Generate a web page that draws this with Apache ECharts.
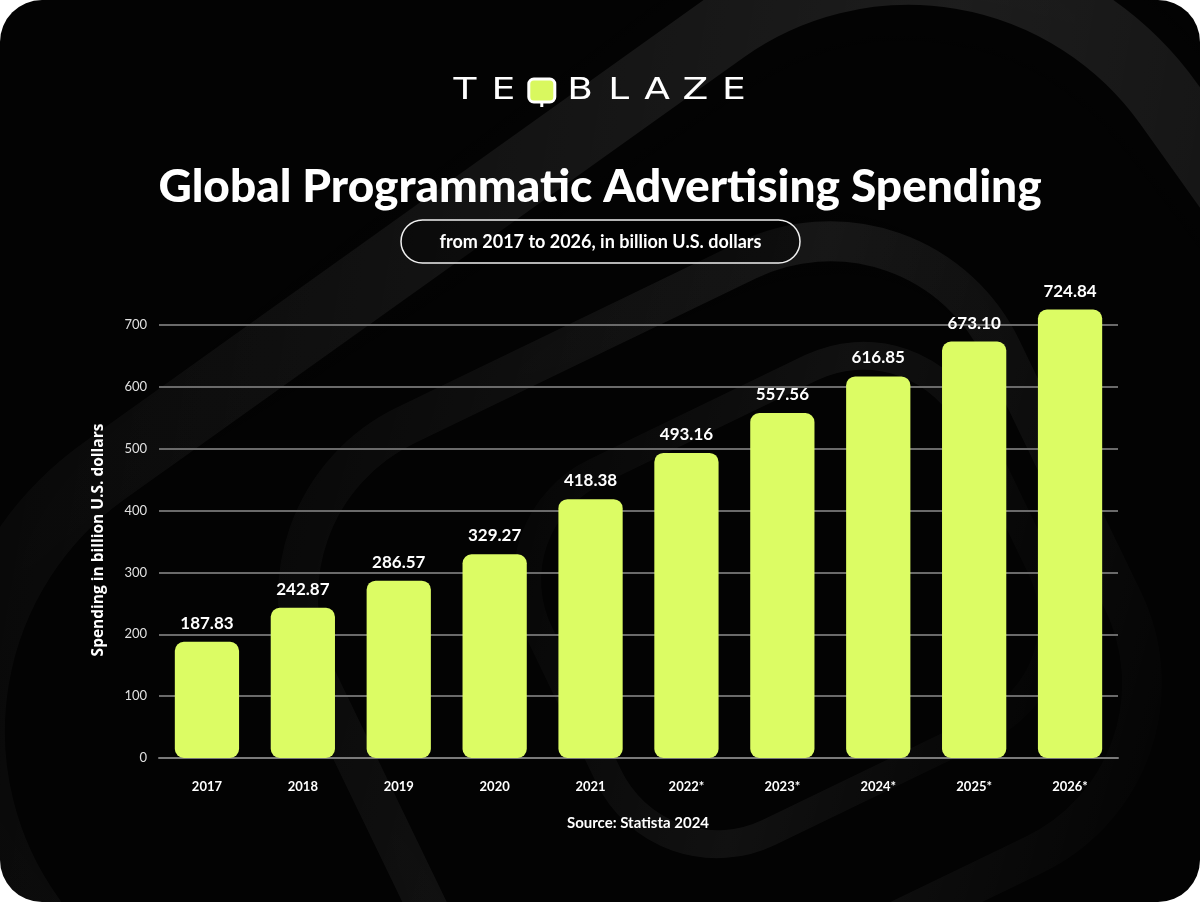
<!DOCTYPE html>
<html>
<head>
<meta charset="utf-8">
<script src="https://cdn.jsdelivr.net/npm/echarts@6/dist/echarts.min.js"></script>
<style>
html,body{margin:0;padding:0;background:#ffffff;}
#wrap{position:absolute;left:0;top:0;width:1200px;height:902px;border-radius:42px;overflow:hidden;background:#030303;}
#chart{width:1200px;height:902px;}
</style>
</head>
<body>
<div id="wrap"><div id="chart"></div></div>
<script>
const categories = ['2017','2018','2019','2020','2021','2022*','2023*','2024*','2025*','2026*'];
const spending = [187.83, 242.87, 286.57, 329.27, 418.38, 493.16, 557.56, 616.85, 673.10, 724.84];
const yTicks = [0, 100, 200, 300, 400, 500, 600, 700];

const FONT = 'Lato, "Open Sans", sans-serif';
const chart = echarts.init(document.getElementById('chart'), null, {renderer: 'canvas'});

function band(a, b) {
  return new echarts.graphic.LinearGradient(0, 0, 1, 1, [
    {offset: 0, color: 'rgba(255,255,255,' + a + ')'},
    {offset: 0.5, color: 'rgba(255,255,255,' + b + ')'},
    {offset: 1, color: 'rgba(255,255,255,0.0)'}
  ]);
}

// logo letters (individual texts for letter spacing)
const logoLetters = ['T','E','Q','B','L','A','Z','E'];
const logoGraphics = [];
logoLetters.forEach((ch, i) => {
  const cx = 465 + i * 38.4;
  if (ch === 'Q') {
    logoGraphics.push({type: 'rect', z: 10, shape: {x: cx - 13, y: 79, width: 26, height: 23, r: 5},
      style: {fill: '#d9f85f', stroke: '#ffffff', lineWidth: 3}});
    logoGraphics.push({type: 'line', z: 10, shape: {x1: cx, y1: 102, x2: cx, y2: 107},
      style: {stroke: '#ffffff', lineWidth: 3}});
    logoGraphics.push({type: 'text', z: 11, x: cx, y: 90,
      style: {text: 'Q', fill: 'rgba(0,0,0,0)', font: '30px "DejaVu Sans"', textAlign: 'center', textVerticalAlign: 'middle'}});
  } else {
    logoGraphics.push({type: 'text', z: 10, x: cx, y: 91, scaleX: 1.25,
      style: {text: ch, fill: '#ffffff', font: '400 30px "DejaVu Sans", sans-serif', textAlign: 'center', textVerticalAlign: 'middle'}});
  }
});

chart.setOption({
  backgroundColor: 'transparent',
  graphic: [
    // decorative background shapes (soft glowing outlines)
    {type: 'rect', z: -10, silent: true, x: 820, y: 820, rotation: 0.62,
     shape: {x: -700, y: -700, width: 1400, height: 1400, r: 320},
     style: {fill: 'none', stroke: band(0.01, 0.10), lineWidth: 70, shadowBlur: 80, shadowColor: 'rgba(255,255,255,0.10)'}},
    {type: 'rect', z: -10, silent: true, x: 720, y: 640, rotation: 0.45,
     shape: {x: -380, y: -330, width: 760, height: 660, r: 190},
     style: {fill: 'none', stroke: band(0.02, 0.08), lineWidth: 40, shadowBlur: 60, shadowColor: 'rgba(255,255,255,0.08)'}},
    {type: 'rect', z: -10, silent: true, x: 790, y: 600, rotation: 0.45,
     shape: {x: -240, y: -200, width: 480, height: 400, r: 120},
     style: {fill: 'none', stroke: band(0.01, 0.06), lineWidth: 28, shadowBlur: 40, shadowColor: 'rgba(255,255,255,0.06)'}},
    ...logoGraphics,
    // title
    {type: 'text', z: 10, x: 600, y: 187,
     style: {text: 'Global Programmatic Advertising Spending', fill: '#ffffff',
       font: '900 46px "Lato", sans-serif', textAlign: 'center', textVerticalAlign: 'middle'}},
    // subtitle pill
    {type: 'rect', z: 9, shape: {x: 401, y: 220, width: 399, height: 43, r: 21.5},
     style: {fill: 'rgba(0,0,0,0.35)', stroke: '#f0f0f0', lineWidth: 1.5}},
    {type: 'text', z: 10, x: 600.5, y: 242,
     style: {text: 'from 2017 to 2026, in billion U.S. dollars', fill: '#ffffff',
       font: '700 18px "Lato", sans-serif', textAlign: 'center', textVerticalAlign: 'middle'}},
    // y axis title
    {type: 'text', z: 10, x: 99, y: 540, rotation: Math.PI / 2,
     style: {text: 'Spending in billion U.S. dollars', fill: '#ffffff',
       font: '700 15.5px "Open Sans", sans-serif', textAlign: 'center', textVerticalAlign: 'middle'}},
    // source
    {type: 'text', z: 10, x: 638, y: 823,
     style: {text: 'Source: Statista 2024', fill: '#ffffff',
       font: '700 15px "Lato", sans-serif', textAlign: 'center', textVerticalAlign: 'middle'}}
  ],
  grid: {left: 159, right: 82, top: 294, bottom: 144},
  xAxis: {
    type: 'category',
    data: categories,
    axisLine: {show: true, lineStyle: {color: '#7a7a7a', width: 2}},
    axisTick: {show: false},
    axisLabel: {color: '#ffffff', fontFamily: FONT, fontWeight: 'bold', fontSize: 13, margin: 22}
  },
  yAxis: {
    type: 'value',
    min: 0, max: 750, interval: 100,
    axisLine: {show: false},
    axisTick: {show: false},
    axisLabel: {color: '#e0e0e0', fontFamily: FONT, fontSize: 13, margin: 12,
      formatter: v => yTicks.includes(v) ? String(v) : ''},
    splitLine: {show: false}
  },
  series: [
    {
      type: 'line', data: [], z: 1, silent: true,
      markLine: {
        z: 1, silent: true, symbol: 'none', label: {show: false},
        lineStyle: {color: '#6a6a6a', width: 2, type: 'solid'},
        emphasis: {disabled: true},
        data: yTicks.filter(v => v > 0).map(v => ({yAxis: v}))
      }
    },
    {
      type: 'bar', z: 3,
      data: spending,
      barWidth: '67%',
      itemStyle: {color: '#dcfc64', borderRadius: 9},
      label: {show: true, position: 'top', distance: 10, color: '#ffffff',
        fontFamily: FONT, fontWeight: 'bold', fontSize: 17,
        formatter: p => p.value.toFixed(2)}
    }
  ]
});
</script>
</body>
</html>
